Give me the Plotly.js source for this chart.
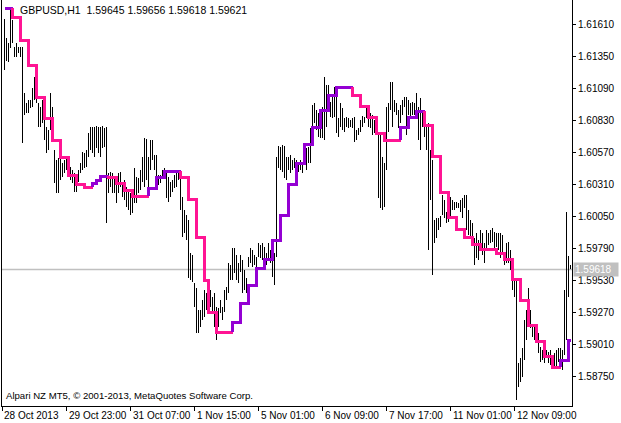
<!DOCTYPE html>
<html><head><meta charset="utf-8">
<script src="https://cdn.plot.ly/plotly-3.0.1.min.js"></script>
<style>html,body{margin:0;padding:0;background:#fff;}#chart{width:621px;height:423px;}
#chart .scatterlayer .js-line{shape-rendering:crispEdges;}</style>
</head><body><div id="chart"></div>
<script>
// ---- data (H1 bars, high / low) ----
const high = [
1.61651,1.61496,1.61456,1.61724,1.61643,1.61423,1.61456,1.61423,1.61423,1.61423,
1.61050,1.60969,1.60993,1.60993,1.61090,1.61180,1.61050,1.60969,1.60936,1.60993,
1.60888,1.60774,1.60749,1.61050,1.60936,1.60587,1.60506,1.60522,1.60530,1.60482,
1.60506,1.60530,1.60482,1.60449,1.60425,1.60401,1.60368,1.60425,1.60482,1.60571,
1.60563,1.60587,1.60725,1.60774,1.60774,1.60774,1.60782,1.60774,1.60774,1.60782,
1.60766,1.60774,1.60401,1.60409,1.60401,1.60368,1.60343,1.60401,1.60409,1.60319,
1.60343,1.60286,1.60262,1.60238,1.60238,1.60441,1.60368,1.60360,1.60425,1.60530,
1.60684,1.60676,1.60530,1.60668,1.60668,1.60546,1.60546,1.60384,1.60384,1.60425,
1.60441,1.60401,1.60368,1.60327,1.60343,1.60384,1.60425,1.60425,1.60368,1.60205,
1.60100,1.60059,1.60019,1.59751,1.59734,1.59507,1.59466,1.59288,1.59288,1.59369,
1.59450,1.59426,1.59369,1.59450,1.59393,1.59426,1.59312,1.59304,1.59369,1.59312,
1.59450,1.59474,1.59670,1.59653,1.59791,1.59791,1.59734,1.59670,1.59734,1.59694,
1.59613,1.59548,1.59718,1.59791,1.59775,1.59734,1.59718,1.59832,1.59815,1.59832,
1.59799,1.59751,1.59832,1.59775,1.59751,1.59751,1.60530,1.60619,1.60611,1.60627,
1.60619,1.60530,1.60530,1.60546,1.60506,1.60522,1.60506,1.60490,1.60506,1.60482,
1.60644,1.60603,1.60611,1.60766,1.60952,1.60969,1.60912,1.60888,1.60896,1.60936,
1.61180,1.61114,1.61114,1.60977,1.61017,1.61098,1.61058,1.60847,1.60969,1.60928,
1.60847,1.60855,1.60847,1.60831,1.60847,1.60855,1.60749,1.60766,1.60831,1.60863,
1.60855,1.60936,1.60912,1.60888,1.60871,1.60831,1.60807,1.60733,1.60725,1.60530,
1.60482,1.60936,1.60969,1.61139,1.61139,1.60993,1.60969,1.60912,1.60952,1.60993,
1.61017,1.61017,1.60993,1.60969,1.60977,1.60969,1.61050,1.60936,1.61009,1.60896,
1.60831,1.60774,1.60807,1.60587,1.60506,1.60019,1.60035,1.60035,1.60051,1.60221,
1.60181,1.60084,1.60221,1.60205,1.60181,1.60165,1.60165,1.60157,1.60181,1.60197,
1.60221,1.60221,1.60100,1.60019,1.59995,1.59872,1.59913,1.59856,1.59937,1.59913,
1.59832,1.59937,1.59913,1.59937,1.59954,1.59921,1.59913,1.59913,1.59913,1.59896,
1.59710,1.59832,1.59840,1.59775,1.59531,1.59531,1.59531,1.58858,1.58898,1.58979,
1.59207,1.59288,1.59466,1.59288,1.59150,1.59150,1.59101,1.59101,1.58987,1.58963,
1.58939,1.58963,1.58947,1.58963,1.58906,1.58939,1.58963,1.58979,1.58979,1.58963,
1.59450,1.60084,1.59726,1.59656];
const low = [
1.61237,1.61310,1.61302,1.61415,1.61456,1.61342,1.61342,1.61375,1.61342,1.60644,
1.60871,1.60888,1.60888,1.60928,1.60936,1.60993,1.60969,1.60774,1.60774,1.60807,
1.60668,1.60563,1.60587,1.60749,1.60668,1.60319,1.60238,1.60238,1.60343,1.60368,
1.60401,1.60425,1.60384,1.60343,1.60319,1.60246,1.60246,1.60327,1.60401,1.60425,
1.60441,1.60449,1.60530,1.60587,1.60563,1.60530,1.60603,1.60563,1.60530,1.60603,
1.60611,1.59995,1.60238,1.60286,1.60238,1.60238,1.60157,1.60238,1.60286,1.60205,
1.60181,1.60124,1.60100,1.60059,1.60076,1.60157,1.60157,1.60238,1.60262,1.60327,
1.60286,1.60343,1.60286,1.60425,1.60506,1.60425,1.60327,1.60302,1.60319,1.60360,
1.60384,1.60197,1.60165,1.60205,1.60246,1.60278,1.60286,1.60343,1.60100,1.59880,
1.59913,1.59856,1.59548,1.59531,1.59515,1.59312,1.59101,1.59101,1.59150,1.59207,
1.59231,1.59288,1.59264,1.59312,1.59264,1.59150,1.59044,1.59150,1.59264,1.59207,
1.59272,1.59369,1.59426,1.59531,1.59531,1.59589,1.59531,1.59507,1.59597,1.59426,
1.59450,1.59426,1.59637,1.59670,1.59637,1.59653,1.59589,1.59718,1.59710,1.59694,
1.59637,1.59653,1.59694,1.59670,1.59556,1.59490,1.59718,1.60441,1.60425,1.60409,
1.60360,1.60343,1.60425,1.60401,1.60425,1.60441,1.60401,1.60409,1.60425,1.60401,
1.60506,1.60425,1.60482,1.60482,1.60774,1.60807,1.60749,1.60692,1.60684,1.60684,
1.60668,1.60774,1.60912,1.60855,1.60847,1.60855,1.60725,1.60692,1.60774,1.60749,
1.60733,1.60774,1.60766,1.60774,1.60766,1.60652,1.60668,1.60708,1.60733,1.60774,
1.60807,1.60847,1.60774,1.60766,1.60708,1.60725,1.60725,1.60197,1.60116,1.60100,
1.60124,1.60425,1.60733,1.60912,1.60774,1.60896,1.60871,1.60766,1.60807,1.60871,
1.60936,1.60708,1.60871,1.60847,1.60871,1.60871,1.60847,1.60668,1.60587,1.60774,
1.60692,1.60587,1.59775,1.60181,1.59572,1.59832,1.59872,1.59937,1.59962,1.60059,
1.60035,1.59995,1.60003,1.60043,1.60100,1.60100,1.60116,1.60116,1.60084,1.60035,
1.60116,1.59937,1.59896,1.59872,1.59856,1.59653,1.59710,1.59694,1.59791,1.59734,
1.59670,1.59775,1.59815,1.59832,1.59840,1.59791,1.59799,1.59775,1.59710,1.59759,
1.59653,1.59670,1.59670,1.59613,1.59450,1.59393,1.58557,1.58662,1.58703,1.58744,
1.58882,1.59044,1.59223,1.59142,1.59068,1.59044,1.59020,1.58939,1.58866,1.58882,
1.58858,1.58898,1.58858,1.58841,1.58825,1.58817,1.58825,1.58866,1.58858,1.58801,
1.58922,1.59044,1.59393,1.59618];

// ---- step indicator: bar where each level starts, and its value ----
const indBar = [0,4,8,12,16,20,24,28,32,36,40,44,46,48,52,56,60,64,72,76,80,88,92,96,100,102,106,114,118,122,126,130,134,138,142,146,150,154,158,162,166,174,178,182,186,190,198,202,206,210,214,218,222,226,230,234,238,246,250,254,258,262,266,270,274,278,282];
const indVal = [1.61740,1.61659,1.61480,1.61277,1.61017,1.60846,1.60667,1.60529,1.60383,1.60310,1.60286,1.60318,1.60342,1.60375,1.60367,1.60318,1.60261,1.60212,1.60277,1.60367,1.60416,1.60367,1.60188,1.59879,1.59530,1.59270,1.59107,1.59189,1.59343,1.59489,1.59627,1.59701,1.59855,1.60058,1.60310,1.60481,1.60635,1.60773,1.60911,1.61033,1.61098,1.61033,1.60944,1.60854,1.60724,1.60667,1.60773,1.60854,1.60903,1.60789,1.60537,1.60245,1.60042,1.59944,1.59879,1.59822,1.59782,1.59749,1.59701,1.59538,1.59367,1.59164,1.59034,1.58912,1.58823,1.58880,1.59042];

// ---- axis labels ----
const tickBars = [-1.2,31,63,95,127,159,191,223,255];
const tickLabels = ['28 Oct 2013','29 Oct 23:00','31 Oct 07:00','1 Nov 15:00','5 Nov 01:00','6 Nov 09:00','7 Nov 17:00','11 Nov 01:00','12 Nov 09:00'];
const priceTicks = [1.58750,1.59010,1.59270,1.59530,1.59790,1.60050,1.60310,1.60570,1.60830,1.61090,1.61350,1.61610];
const headerText = 'GBPUSD,H1  1.59645 1.59656 1.59618 1.59621';
const footerText = 'Alpari NZ MT5, \u00a9 2001-2013, MetaQuotes Software Corp.';
const lastPrice = 1.59618;

const UP = '#9400D3', DOWN = '#FF1493';
const FONT = 'Liberation Sans, Arial, sans-serif';

// bars
const bx = [], by = [];
for (let i = 0; i < high.length; i++) { bx.push(i, i, null); by.push(low[i], high[i], null); }
const traces = [{
  type: 'scatter', mode: 'lines', x: bx, y: by,
  line: { color: '#000000', width: 1 }, hoverinfo: 'skip', showlegend: false
}];

// indicator coloured by direction
const K = indBar.length, lastBar = high.length - 1;
const col = [];
for (let k = 0; k < K; k++) {
  if (k === 0) col.push(UP);
  else if (indVal[k] > indVal[k - 1]) col.push(UP);
  else if (indVal[k] < indVal[k - 1]) col.push(DOWN);
  else col.push(col[k - 1]);
}
let k0 = 0;
while (k0 < K) {
  let k1 = k0;
  while (k1 + 1 < K && col[k1 + 1] === col[k0]) k1++;
  const xs = [], ys = [];
  if (k0 > 0) { xs.push(indBar[k0]); ys.push(indVal[k0 - 1]); }
  for (let k = k0; k <= k1; k++) {
    const end = (k + 1 < K) ? indBar[k + 1] : lastBar;
    xs.push(indBar[k], end); ys.push(indVal[k], indVal[k]);
  }
  traces.push({
    type: 'scatter', mode: 'lines', x: xs, y: ys,
    line: { color: col[k0], width: 3 }, hoverinfo: 'skip', showlegend: false
  });
  k0 = k1 + 1;
}

const annotations = [
  { text: headerText, xref: 'paper', yref: 'paper', x: 16 / 570, y: (406 - 9.5) / 406,
    xanchor: 'left', yanchor: 'middle', showarrow: false,
    font: { family: FONT, size: 10.5, color: '#000000' } },
  { text: footerText, xref: 'paper', yref: 'paper', x: 2 / 570, y: (406 - 395) / 406,
    xanchor: 'left', yanchor: 'middle', showarrow: false,
    font: { family: FONT, size: 9.6, color: '#000000' } },
  { text: lastPrice.toFixed(5), xref: 'paper', yref: 'y', x: 1, y: lastPrice, xshift: 1,
    xanchor: 'left', yanchor: 'middle', showarrow: false, align: 'left',
    width: 42, height: 11, bgcolor: '#C0C0C0', borderpad: 1,
    font: { family: FONT, size: 10, color: '#ffffff' } }
];
// time labels, left-aligned at their tick
tickBars.forEach((b, j) => annotations.push({
  text: tickLabels[j], xref: 'x', yref: 'paper', x: b, y: -9.5 / 406, xshift: 0,
  xanchor: 'left', yanchor: 'middle', showarrow: false,
  font: { family: FONT, size: 10, color: '#000000' }
}));

const layout = {
  width: 621, height: 423,
  margin: { l: 2, r: 49, t: 0, b: 17, pad: 0 },
  paper_bgcolor: '#ffffff', plot_bgcolor: '#ffffff',
  font: { family: FONT, size: 10, color: '#000000' },
  showlegend: false,
  xaxis: {
    range: [-1.25, 283.75], showgrid: false, zeroline: false,
    showline: true, linecolor: '#000000', linewidth: 1,
    ticks: 'outside', ticklen: 4, tickcolor: '#000000', tickwidth: 1,
    tickmode: 'array', tickvals: tickBars, showticklabels: false,
    automargin: false, fixedrange: true
  },
  yaxis: {
    side: 'right', range: [1.58509, 1.61805], showgrid: false, zeroline: false,
    showline: true, mirror: true, linecolor: '#000000', linewidth: 1,
    ticks: 'outside', ticklen: 3, tickcolor: '#000000', tickwidth: 1,
    tickmode: 'array', tickvals: priceTicks, ticktext: priceTicks.map(v => v.toFixed(5)),
    tickfont: { family: FONT, size: 10, color: '#000000' },
    automargin: false, fixedrange: true
  },
  shapes: [{
    type: 'line', xref: 'paper', x0: 0, x1: 1, yref: 'y', y0: lastPrice, y1: lastPrice,
    line: { color: '#C0C0C0', width: 1.5 }, layer: 'below'
  }],
  annotations: annotations
};

Plotly.newPlot('chart', traces, layout, { staticPlot: true, displayModeBar: false });
</script></body></html>
